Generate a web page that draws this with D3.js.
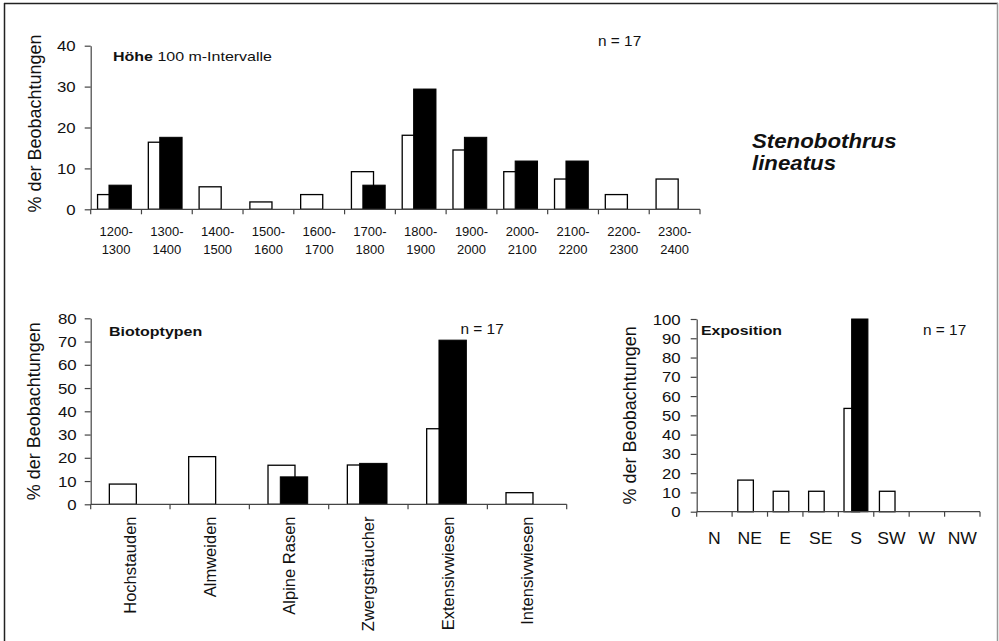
<!DOCTYPE html>
<html><head><meta charset="utf-8">
<script src="https://cdn.jsdelivr.net/npm/d3@7"></script>
<style>
html,body{margin:0;padding:0;background:#fff;}
svg{display:block;font-family:"Liberation Sans",Arial,sans-serif;}
</style></head>
<body>
<svg id="c" width="999" height="641"></svg>
<script>
// ---- data ----
const hoeheCats = ["1200-1300","1300-1400","1400-1500","1500-1600","1600-1700","1700-1800","1800-1900","1900-2000","2000-2100","2100-2200","2200-2300","2300-2400"];
const hoeheAll = [3.6,16.4,5.5,1.8,3.6,9.2,18.1,14.5,9.2,7.4,3.6,7.4];
const hoeheSpecies = [5.9,17.6,0,0,0,5.9,29.4,17.6,11.8,11.8,0,0];
const hoeheTicks = [0,10,20,30,40];

const biotopCats = ["Hochstauden","Almweiden","Alpine Rasen","Zwergsträucher","Extensivwiesen","Intensivwiesen"];
const biotopAll = [8.7,20.5,16.8,16.9,32.5,5.0];
const biotopSpecies = [0,0,11.8,17.6,70.6,0];
const biotopTicks = [0,10,20,30,40,50,60,70,80];

const expoCats = ["N","NE","E","SE","S","SW","W","NW"];
const expoAll = [0,16.4,10.6,10.6,53.6,10.6,0,0];
const expoSpecies = [0,0,0,0,100,0,0,0];
const expoTicks = [0,10,20,30,40,50,60,70,80,90,100];

const svg = d3.select("#c");
const AX = "#444";
const TXT = "#111";

// frame
svg.append("line").attr("x1",4.5).attr("x2",4.5).attr("y1",3).attr("y2",641).attr("stroke","#222").attr("stroke-width",1.5);
svg.append("line").attr("x1",4).attr("x2",998).attr("y1",3.5).attr("y2",3.5).attr("stroke","#222").attr("stroke-width",1.5);
svg.append("line").attr("x1",997.5).attr("x2",997.5).attr("y1",3).attr("y2",641).attr("stroke","#999").attr("stroke-width",1.5);

function chart(o){
  const g = svg.append("g");
  const x = d3.scaleBand().domain(o.cats).range([o.x0,o.x1]).paddingInner(0).paddingOuter(0);
  const y = d3.scaleLinear().domain([0,o.max]).range([o.y0,o.y1]);
  const bw = x.bandwidth();
  // y axis
  const ya = d3.axisLeft(y).tickValues(o.ticks).tickSize(6).tickSizeOuter(0);
  const yg = g.append("g").attr("transform",`translate(${o.x0},0)`).call(ya);
  yg.select(".domain").attr("stroke",AX).attr("stroke-width",1.2);
  yg.selectAll(".tick line").attr("stroke",AX).attr("stroke-width",1.2);
  yg.selectAll(".tick text").attr("x",0).attr("dy","0.36em").attr("fill",TXT)
    .style("font-size","14px").attr("text-anchor","end")
    .attr("transform",`translate(${-o.tickGap},0) scale(1.2,1)`);
  // bars: all observations (white), species (black)
  const rows = o.cats.map((c,i)=>({c,a:o.all[i],s:o.sp[i]}));
  g.selectAll("rect.w").data(rows.filter(d=>d.a>0)).join("rect")
    .attr("x",d=>x(d.c)+bw*o.wOff).attr("width",bw*o.wW)
    .attr("y",d=>y(d.a)).attr("height",d=>y(0)-y(d.a))
    .attr("fill","#fff").attr("stroke","#000").attr("stroke-width",1.3);
  g.selectAll("rect.b").data(rows.filter(d=>d.s>0)).join("rect")
    .attr("x",d=>x(d.c)+bw*o.bOff).attr("width",bw*o.bW)
    .attr("y",d=>y(d.s)).attr("height",d=>y(0)-y(d.s))
    .attr("fill","#000").attr("stroke","#000").attr("stroke-width",1);
  // x axis line + boundary ticks
  g.append("line").attr("x1",o.x0).attr("x2",o.x1).attr("y1",y(0)).attr("y2",y(0)).attr("stroke",AX).attr("stroke-width",1.3);
  const bounds = o.cats.map(c=>x(c)).concat([x(o.cats[o.cats.length-1])+bw]);
  g.selectAll("line.xt").data(bounds).join("line").attr("x1",d=>d).attr("x2",d=>d)
    .attr("y1",y(0)).attr("y2",y(0)+5).attr("stroke",AX).attr("stroke-width",1.2);
  // y title
  g.append("text").attr("transform",`translate(${o.titleX},${(o.y0+o.y1)/2+o.titleDy}) rotate(-90)`)
    .attr("text-anchor","middle").attr("fill",TXT).style("font-size","18px").text("% der Beobachtungen");
  return {g,x,y,bw};
}

// ---- Höhe ----
const h = chart({cats:hoeheCats,all:hoeheAll,sp:hoeheSpecies,ticks:hoeheTicks,max:40,
  x0:90.7,x1:700,y0:209.3,y1:45.7,wOff:0.135,wW:0.435,bOff:0.36,bW:0.44,tickGap:15,titleX:41,titleDy:-4});
h.g.selectAll("text.xl").data(hoeheCats).join("text")
  .attr("transform",d=>`translate(${h.x(d)+h.bw/2},0)`)
  .attr("text-anchor","middle").attr("fill",TXT).style("font-size","13px")
  .each(function(d){
    const parts=d.split("-");
    d3.select(this).append("tspan").attr("x",0).attr("y",236).text(parts[0]+"-");
    d3.select(this).append("tspan").attr("x",0).attr("y",254).text(parts[1]);
  });
const ht = svg.append("text").attr("transform","translate(113,60.5) scale(1.23,1)").attr("fill",TXT).style("font-size","13px");
ht.append("tspan").style("font-weight","bold").text("Höhe");
ht.append("tspan").text(" 100 m-Intervalle");
svg.append("text").attr("transform","translate(598,46) scale(1.1,1)").attr("fill",TXT).style("font-size","14px").text("n = 17");

// species name
svg.append("text").attr("transform","translate(752,148) scale(1.06,1)").attr("fill",TXT)
  .style("font-size","21px").style("font-weight","bold").style("font-style","italic").text("Stenobothrus");
svg.append("text").attr("transform","translate(752,170) scale(1.06,1)").attr("fill",TXT)
  .style("font-size","21px").style("font-weight","bold").style("font-style","italic").text("lineatus");

// ---- Biotoptypen ----
const b = chart({cats:biotopCats,all:biotopAll,sp:biotopSpecies,ticks:biotopTicks,max:80,
  x0:90.7,x1:566.7,y0:504.3,y1:318.3,wOff:0.235,wW:0.34,bOff:0.39,bW:0.345,tickGap:14,titleX:40,titleDy:0});
b.g.selectAll("text.xl").data(biotopCats).join("text")
  .attr("transform",d=>`translate(${b.x(d)+b.bw/2},516.5) rotate(-90)`)
  .attr("text-anchor","end").attr("dy","0.36em").attr("fill",TXT).style("font-size","16.5px").text(d=>d);
svg.append("text").attr("transform","translate(109,336) scale(1.23,1)").attr("fill",TXT)
  .style("font-size","13px").style("font-weight","bold").text("Biotoptypen");
svg.append("text").attr("transform","translate(460.5,333.5) scale(1.1,1)").attr("fill",TXT).style("font-size","14px").text("n = 17");

// ---- Exposition ----
const e = chart({cats:expoCats,all:expoAll,sp:expoSpecies,ticks:expoTicks,max:100,
  x0:696.7,x1:980,y0:511.7,y1:319,wOff:0.16,wW:0.44,bOff:0.375,bW:0.46,tickGap:16,titleX:636,titleDy:0});
e.g.selectAll("text.xl").data(expoCats).join("text")
  .attr("transform",d=>`translate(${e.x(d)+e.bw/2},544) scale(1.1,1)`)
  .attr("text-anchor","middle").attr("fill",TXT).style("font-size","16px").text(d=>d);
svg.append("text").attr("transform","translate(701,335) scale(1.22,1)").attr("fill",TXT)
  .style("font-size","13px").style("font-weight","bold").text("Exposition");
svg.append("text").attr("transform","translate(923,335) scale(1.1,1)").attr("fill",TXT).style("font-size","14px").text("n = 17");
</script>
</body></html>
